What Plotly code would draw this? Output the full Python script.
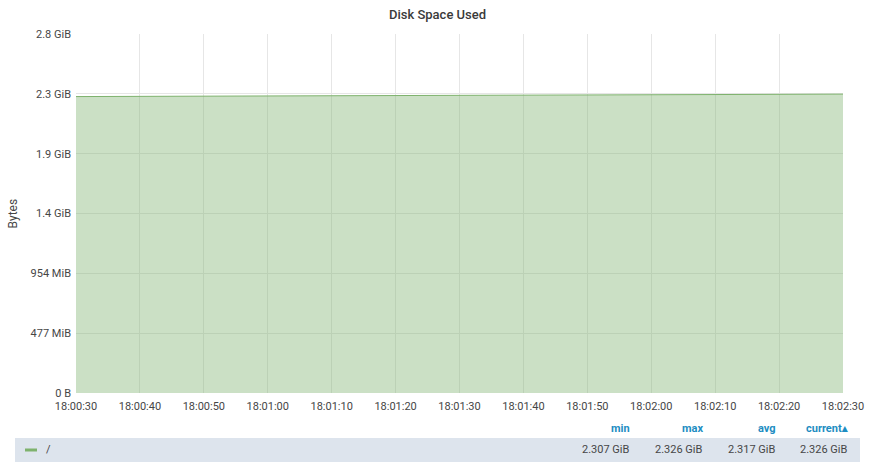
import plotly.graph_objects as go

# ---- data ----
times = ["2024-01-01 18:00:30", "2024-01-01 18:00:40", "2024-01-01 18:00:50",
         "2024-01-01 18:01:00", "2024-01-01 18:01:10", "2024-01-01 18:01:20",
         "2024-01-01 18:01:30", "2024-01-01 18:01:40", "2024-01-01 18:01:50",
         "2024-01-01 18:02:00", "2024-01-01 18:02:10", "2024-01-01 18:02:20",
         "2024-01-01 18:02:30"]
used_gib = [2.307, 2.309, 2.311, 2.313, 2.315, 2.316, 2.317,
            2.319, 2.320, 2.322, 2.323, 2.324, 2.326]
ytick_vals = [0, 5e8, 1e9, 1.5e9, 2e9, 2.5e9, 3e9]
ytick_text = ["0 B", "477 MiB", "954 MiB", "1.4 GiB", "1.9 GiB", "2.3 GiB", "2.8 GiB"]
series_name = "/"
legend_headers = ["min", "max", "avg", "current\u25b4"]

GIB = 1024 ** 3
used_bytes = [v * GIB for v in used_gib]

W, H = 875, 468
L, R, T, B = 76, 32, 34, 75
pw, ph = W - L - R, H - T - B


def px(x):
    return (x - L) / pw


def py(y):
    return (H - B - y) / ph


green = "#7EB26D"
fig = go.Figure()
fig.add_trace(go.Scatter(
    x=times, y=used_bytes, mode="lines", name=series_name,
    line=dict(color=green, width=1), fill="tozeroy",
    fillcolor="rgba(126,178,109,0.4)", showlegend=False,
))

fig.update_layout(
    width=W, height=H, margin=dict(l=L, r=R, t=T, b=B),
    paper_bgcolor="white", plot_bgcolor="white",
    font=dict(family="Roboto", size=11, color="#464646"),
    title=dict(text="Disk Space Used", x=0.5, xref="container", xanchor="center",
               y=1 - 14 / H, yanchor="middle",
               font=dict(family="Roboto", size=13, color="#3a3a3a", weight=500)),
)
fig.update_xaxes(
    type="date", range=[times[0], times[-1]], dtick=10000, tickformat="%H:%M:%S",
    showgrid=True, gridcolor="#e6e6e6", gridwidth=1, zeroline=False,
    showline=False, ticks="", ticklabelstandoff=5,
    tickfont=dict(size=11, color="#464646"),
)
fig.update_yaxes(
    range=[0, 3e9], tickvals=ytick_vals, ticktext=ytick_text,
    showgrid=True, gridcolor="#e6e6e6", gridwidth=1, zeroline=False,
    showline=False, ticks="", ticklabelstandoff=4,
    tickfont=dict(size=11, color="#464646"),
)

# y-axis title
fig.add_annotation(text="Bytes", xref="paper", yref="paper", x=px(12), y=0.5,
                   textangle=-90, showarrow=False, xanchor="center", yanchor="middle",
                   font=dict(size=12, color="#464646"))

# legend table
fig.add_shape(type="rect", xref="paper", yref="paper",
              x0=px(15), x1=px(860), y0=py(462), y1=py(438),
              fillcolor="#dde4ed", line=dict(width=0), layer="below")
fig.add_shape(type="line", xref="paper", yref="paper",
              x0=px(25), x1=px(37), y0=py(450), y1=py(450),
              line=dict(color=green, width=3))
fig.add_annotation(text=series_name, xref="paper", yref="paper", x=px(44), y=py(449),
                   showarrow=False, xanchor="left", yanchor="middle",
                   font=dict(size=11, color="#464646"))

stats = [min(used_gib), max(used_gib), sum(used_gib) / len(used_gib), used_gib[-1]]
col_right = [632, 705, 778, 850]
for hdr, val, xr in zip(legend_headers, stats, col_right):
    fig.add_annotation(text="<b>%s</b>" % hdr, xref="paper", yref="paper",
                       x=px(xr), y=py(428), showarrow=False, xanchor="right",
                       yanchor="middle", font=dict(size=11, color="#1d8dc2"))
    fig.add_annotation(text="%.3f GiB" % val, xref="paper", yref="paper",
                       x=px(xr), y=py(449), showarrow=False, xanchor="right",
                       yanchor="middle", font=dict(size=11, color="#464646"))

fig.write_html("out.html")
